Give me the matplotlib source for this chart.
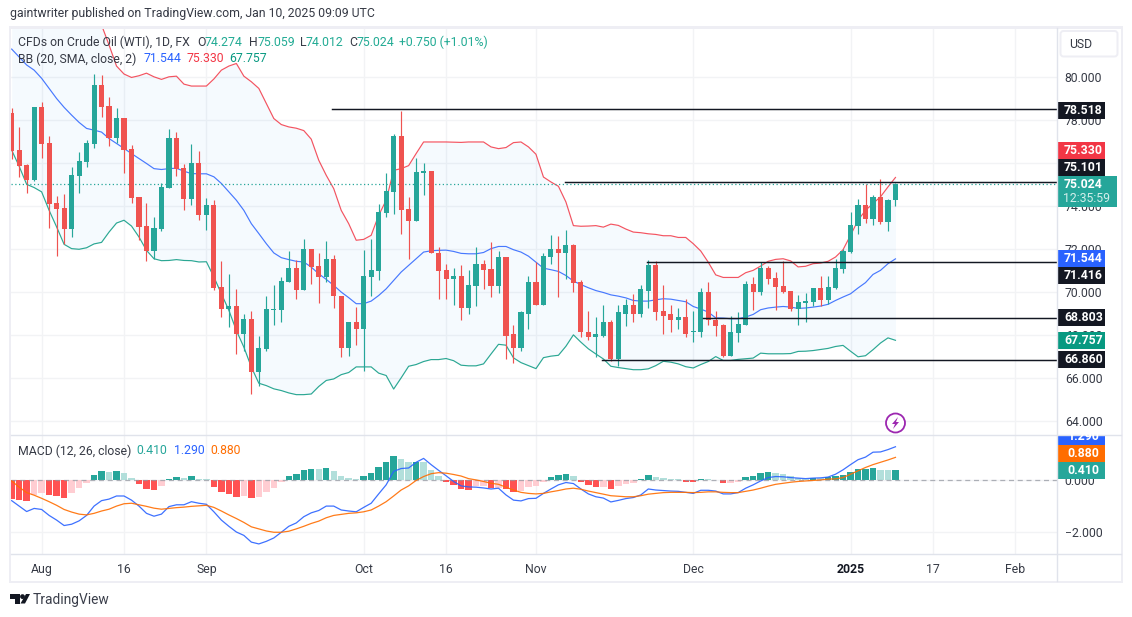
import numpy as np
import matplotlib
matplotlib.use("Agg")
import matplotlib.pyplot as plt
from matplotlib.patches import Rectangle, Circle, Polygon, FancyBboxPatch

# ===== candles (daily, WTI CFD) =====
open_ = [78.34, 76.60, 75.90, 75.20, 78.62, 76.92, 74.13, 73.90, 72.92, 75.39,
         76.04, 76.88, 79.63, 78.65, 77.16, 78.09, 76.64, 74.41, 73.06, 71.89,
         72.92, 74.83, 77.16, 75.76, 74.32, 75.99, 73.57, 74.04, 70.22, 69.19,
         69.33, 68.07, 68.77, 66.26, 67.33, 69.15, 69.15, 70.45, 71.10, 70.08,
         71.99, 71.20, 70.68, 71.52, 69.84, 67.42, 68.59, 68.26, 70.68, 70.96,
         73.66, 74.64, 77.25, 73.85, 73.29, 75.52, 75.62, 71.84, 71.01, 70.63,
         70.73, 69.28, 70.26, 71.29, 71.05, 70.26, 71.61, 68.03, 67.42, 69.00,
         70.49, 69.42, 71.61, 71.98, 71.84, 72.17, 70.45, 68.16, 67.93, 67.98,
         68.63, 66.91, 69.00, 69.42, 68.96, 70.07, 71.24, 69.10, 68.96, 68.72,
         68.86, 68.12, 68.12, 69.98, 68.72, 68.45, 67.05, 68.08, 68.45, 70.36,
         69.99, 71.10, 70.64, 70.27, 70.03, 69.19, 69.47, 69.52, 70.17, 69.61,
         70.17, 71.06, 71.85, 73.06, 74.04, 73.39, 74.41, 73.25, 74.274]
high = [78.54, 77.68, 75.95, 78.62, 78.83, 77.25, 74.46, 74.55, 75.81, 76.50,
        77.06, 80.14, 80.09, 79.07, 78.55, 78.09, 76.83, 74.41, 74.13, 73.48,
        75.06, 77.58, 77.44, 75.95, 76.88, 76.55, 74.36, 74.27, 71.43, 70.82,
        70.12, 68.96, 69.10, 67.98, 69.80, 70.31, 70.68, 71.89, 71.47, 72.45,
        71.99, 71.80, 72.36, 71.71, 69.84, 68.63, 69.29, 71.94, 72.45, 74.08,
        75.52, 77.34, 78.41, 74.41, 76.22, 75.99, 75.62, 72.08, 71.29, 71.10,
        71.24, 71.01, 72.08, 71.47, 72.31, 71.89, 71.61, 68.49, 69.14, 70.77,
        71.41, 71.80, 72.64, 72.59, 72.87, 72.22, 70.54, 69.14, 68.86, 69.38,
        68.68, 69.38, 69.66, 69.93, 70.35, 71.47, 71.43, 70.31, 69.38, 69.28,
        69.66, 69.10, 70.21, 70.49, 69.14, 68.50, 68.87, 69.05, 70.50, 70.68,
        71.38, 71.20, 70.92, 71.43, 70.03, 69.85, 69.94, 70.17, 70.73, 70.73,
        71.52, 71.99, 73.71, 74.32, 75.02, 74.50, 75.25, 74.32, 75.059]
low = [76.18, 75.36, 74.61, 75.17, 76.24, 72.98, 71.68, 72.22, 72.56, 74.61,
       75.81, 76.69, 78.15, 76.78, 76.91, 75.53, 74.13, 72.41, 71.43, 71.52,
       72.83, 74.83, 75.39, 73.80, 74.04, 73.34, 72.87, 70.08, 68.82, 68.37,
       67.14, 67.28, 65.28, 65.61, 67.24, 68.49, 68.63, 70.45, 69.70, 70.08,
       70.36, 69.47, 70.45, 69.24, 66.96, 67.05, 67.56, 66.35, 69.84, 70.54,
       73.47, 73.61, 72.68, 71.52, 73.29, 74.50, 71.80, 69.70, 69.66, 69.42,
       68.68, 68.96, 69.33, 70.12, 69.75, 69.95, 66.91, 66.72, 67.28, 68.30,
       69.38, 69.42, 71.29, 69.75, 70.63, 69.98, 67.93, 67.75, 66.97, 67.93,
       66.81, 66.58, 68.44, 68.63, 68.86, 69.28, 68.72, 68.03, 68.16, 68.26,
       67.89, 67.70, 67.89, 68.49, 67.98, 66.96, 67.05, 67.70, 68.45, 69.15,
       69.85, 70.36, 69.15, 69.94, 69.10, 68.45, 68.59, 69.33, 69.33, 69.43,
       70.13, 70.87, 71.80, 72.69, 73.20, 73.11, 73.15, 72.83, 74.012]
close = [76.57, 75.85, 75.20, 78.62, 76.89, 74.08, 73.85, 72.92, 75.43, 76.09,
         76.92, 79.63, 78.62, 77.16, 78.09, 76.60, 74.36, 73.01, 71.89, 72.96,
         74.87, 77.16, 75.71, 74.32, 75.99, 73.57, 74.04, 70.17, 69.19, 69.33,
         68.07, 68.77, 66.26, 67.38, 69.19, 69.19, 70.50, 71.10, 70.08, 71.99,
         71.16, 70.68, 71.52, 69.80, 67.42, 68.59, 68.26, 70.73, 71.01, 73.71,
         74.69, 77.25, 73.80, 73.29, 75.57, 75.62, 71.80, 70.96, 70.63, 70.73,
         69.28, 70.31, 71.29, 71.01, 70.26, 71.61, 67.98, 67.42, 69.05, 70.49,
         69.42, 71.66, 71.98, 71.84, 72.17, 70.40, 68.12, 67.93, 68.03, 68.63,
         66.91, 69.05, 69.42, 68.96, 70.12, 71.24, 69.05, 68.91, 68.72, 68.86,
         68.07, 68.16, 69.98, 68.68, 68.40, 67.05, 68.12, 68.50, 70.36, 69.99,
         71.10, 70.59, 70.22, 69.99, 69.19, 69.52, 69.57, 70.17, 69.61, 70.22,
         71.10, 71.90, 73.11, 74.04, 73.39, 74.41, 73.25, 74.27, 75.024]

# ===== bollinger bands (first upper values are above the pane, estimated) =====
bb_upper = [86.0, 85.8, 85.6, 85.4, 85.2, 85.0, 84.8, 84.6, 84.4, 84.1,
            83.8, 83.35, 82.42, 81.49, 80.51, 80.14, 79.98, 80.06, 80.18, 80.01,
            79.89, 80.01, 80.04, 79.67, 79.58, 79.58, 79.58, 79.91, 80.32, 80.51,
            80.63, 80.04, 79.78, 79.47, 78.77, 78.07, 77.79, 77.68, 77.62, 77.51,
            77.11, 76.13, 75.43, 74.81, 73.80, 73.18, 72.41, 72.45, 72.64, 73.57,
            74.27, 75.66, 75.74, 75.88, 76.44, 76.98, 76.98, 76.98, 76.98, 76.97,
            76.96, 76.98, 76.98, 76.98, 76.75, 76.67, 76.72, 76.95, 76.98, 76.75,
            76.41, 75.35, 75.12, 74.92, 74.19, 73.09, 73.06, 73.07, 73.09, 73.02,
            73.16, 73.10, 72.93, 72.79, 72.76, 72.71, 72.68, 72.62, 72.62, 72.54,
            72.54, 72.25, 71.91, 71.39, 70.80, 70.68, 70.68, 70.68, 70.90, 71.01,
            71.21, 71.43, 71.52, 71.55, 71.45, 71.17, 71.20, 71.32, 71.35, 71.43,
            71.63, 71.97, 72.64, 73.34, 73.80, 74.12, 74.43, 74.89, 75.33]
bb_basis = [81.30, 80.93, 80.56, 80.32, 79.94, 79.47, 79.00, 78.59, 78.23, 77.89,
            77.61, 77.53, 77.44, 77.14, 76.91, 76.68, 76.44, 76.21, 75.98, 75.74,
            75.70, 75.74, 75.76, 75.62, 75.51, 75.50, 75.50, 75.36, 75.05, 74.66,
            74.27, 73.80, 73.18, 72.72, 72.25, 71.82, 71.60, 71.51, 71.43, 71.40,
            71.16, 70.85, 70.59, 70.31, 70.00, 69.74, 69.46, 69.46, 69.58, 69.84,
            70.15, 70.54, 70.93, 71.24, 71.55, 71.86, 71.92, 71.94, 71.95, 71.89,
            71.80, 71.78, 71.78, 71.84, 72.02, 72.12, 72.12, 71.97, 71.86, 71.67,
            71.39, 71.11, 71.04, 70.96, 70.77, 70.51, 70.35, 70.20, 70.07, 69.98,
            69.87, 69.81, 69.73, 69.61, 69.58, 69.58, 69.64, 69.69, 69.67, 69.61,
            69.55, 69.33, 69.21, 69.07, 68.80, 68.79, 68.76, 68.76, 68.84, 68.96,
            69.18, 69.26, 69.30, 69.33, 69.30, 69.24, 69.26, 69.30, 69.35, 69.43,
            69.61, 69.77, 69.92, 70.19, 70.44, 70.82, 71.01, 71.32, 71.544]
bb_lower = [76.60, 75.85, 75.01, 74.86, 74.66, 73.80, 73.03, 72.22, 72.02, 71.99,
            72.06, 72.24, 72.31, 72.79, 73.21, 73.34, 73.07, 72.56, 71.94, 71.55,
            71.46, 71.47, 71.51, 71.47, 71.46, 71.40, 71.41, 70.70, 69.92, 69.15,
            68.21, 67.44, 66.51, 65.76, 65.65, 65.50, 65.42, 65.31, 65.23, 65.23,
            65.26, 65.61, 65.89, 65.96, 66.16, 66.26, 66.52, 66.52, 66.52, 66.23,
            66.12, 65.49, 66.01, 66.55, 66.63, 66.77, 66.86, 66.86, 66.91, 66.81,
            66.60, 66.57, 66.57, 66.66, 67.12, 67.57, 67.53, 66.94, 66.72, 66.58,
            66.44, 66.95, 67.02, 67.06, 67.48, 68.01, 67.67, 67.36, 67.12, 66.89,
            66.55, 66.49, 66.44, 66.39, 66.39, 66.43, 66.58, 66.78, 66.74, 66.66,
            66.53, 66.47, 66.63, 66.77, 67.00, 66.82, 66.82, 66.87, 66.90, 66.93,
            67.16, 67.13, 67.13, 67.13, 67.14, 67.24, 67.25, 67.28, 67.33, 67.38,
            67.47, 67.52, 67.25, 66.99, 67.04, 67.32, 67.63, 67.87, 67.757]

# ===== macd pane =====
macd_hist = [-0.74, -0.77, -0.80, -0.58, -0.48, -0.57, -0.61, -0.69, -0.49, -0.30,
             -0.10, 0.21, 0.36, 0.32, 0.36, 0.29, 0.09, -0.13, -0.34, -0.38,
             -0.22, 0.05, 0.13, 0.09, 0.17, 0.05, 0.04, -0.26, -0.45, -0.53,
             -0.65, -0.61, -0.69, -0.65, -0.45, -0.30, -0.06, 0.17, 0.25, 0.40,
             0.44, 0.43, 0.48, 0.36, 0.17, 0.09, 0.05, 0.17, 0.29, 0.52,
             0.71, 0.95, 0.83, 0.70, 0.72, 0.71, 0.40, 0.17, -0.06, -0.18,
             -0.34, -0.38, -0.22, -0.21, -0.30, -0.29, -0.34, -0.45, -0.42, -0.26,
             -0.22, -0.06, 0.13, 0.21, 0.25, 0.17, -0.06, -0.18, -0.26, -0.25,
             -0.34, -0.22, -0.14, -0.10, 0.05, 0.21, 0.13, 0.09, 0.05, 0.04,
             -0.06, -0.07, 0.05, 0.04, 0.01, -0.10, -0.09, -0.06, 0.13, 0.17,
             0.29, 0.32, 0.29, 0.25, 0.16, 0.10, 0.06, 0.10, 0.09, 0.14,
             0.18, 0.21, 0.32, 0.44, 0.45, 0.48, 0.40, 0.39, 0.41]
macd_line = [-0.79, -1.00, -1.21, -1.09, -1.13, -1.36, -1.54, -1.75, -1.70, -1.57,
             -1.36, -1.00, -0.79, -0.73, -0.61, -0.61, -0.77, -1.00, -1.28, -1.39,
             -1.31, -1.02, -0.95, -0.95, -0.83, -0.89, -0.93, -1.22, -1.54, -1.78,
             -2.00, -2.13, -2.39, -2.46, -2.36, -2.23, -2.01, -1.78, -1.65, -1.41,
             -1.26, -1.17, -1.00, -1.00, -1.15, -1.19, -1.22, -1.05, -0.89, -0.53,
             -0.18, 0.34, 0.45, 0.47, 0.69, 0.84, 0.60, 0.38, 0.17, -0.05,
             -0.22, -0.26, -0.27, -0.30, -0.34, -0.31, -0.57, -0.77, -0.80, -0.71,
             -0.70, -0.51, -0.34, -0.18, -0.09, -0.13, -0.34, -0.53, -0.64, -0.69,
             -0.84, -0.78, -0.71, -0.67, -0.57, -0.34, -0.38, -0.40, -0.42, -0.43,
             -0.47, -0.51, -0.39, -0.39, -0.42, -0.53, -0.53, -0.48, -0.31, -0.18,
             -0.03, 0.10, 0.14, 0.13, 0.10, 0.08, 0.06, 0.08, 0.09, 0.12,
             0.23, 0.40, 0.60, 0.79, 0.89, 1.08, 1.09, 1.18, 1.29]
signal_line = [-0.03, -0.27, -0.48, -0.58, -0.70, -0.83, -0.97, -1.13, -1.23, -1.31,
               -1.34, -1.28, -1.19, -1.12, -1.00, -0.91, -0.89, -0.95, -1.01, -1.08,
               -1.12, -1.09, -1.06, -1.04, -1.01, -0.99, -0.97, -1.05, -1.19, -1.34,
               -1.48, -1.63, -1.80, -1.88, -1.96, -2.01, -2.01, -1.97, -1.88, -1.78,
               -1.67, -1.58, -1.45, -1.36, -1.32, -1.28, -1.26, -1.22, -1.15, -1.00,
               -0.83, -0.61, -0.38, -0.22, -0.01, 0.14, 0.25, 0.29, 0.27, 0.22,
               0.16, 0.06, 0.01, -0.05, -0.12, -0.16, -0.27, -0.38, -0.47, -0.51,
               -0.53, -0.51, -0.45, -0.40, -0.34, -0.31, -0.35, -0.42, -0.48, -0.54,
               -0.60, -0.62, -0.64, -0.64, -0.60, -0.54, -0.51, -0.48, -0.47, -0.47,
               -0.47, -0.48, -0.47, -0.45, -0.45, -0.47, -0.48, -0.48, -0.43, -0.38,
               -0.31, -0.23, -0.16, -0.12, -0.08, -0.05, -0.03, -0.01, 0.01, 0.04,
               0.05, 0.10, 0.23, 0.36, 0.49, 0.60, 0.69, 0.78, 0.88]

# ===== horizontal rays drawn on the chart =====
level_values = [78.518, 75.101, 71.416, 68.803, 66.860]
level_start_bar = [42.8, 73.9, 84.8, 92.3, 78.8]
last_price = 75.024

# ===== axis labels =====
date_ticks = [4, 15, 26, 47, 58, 70, 91, 112, 123, 134]
date_labels = ["Aug", "16", "Sep", "Oct", "16", "Nov", "Dec", "2025", "17", "Feb"]
price_ticks = [64, 66, 68, 70, 72, 74, 76, 78, 80]
macd_ticks = [-2, 0]

UP = "#26a69a"
DOWN = "#ef5350"
INK = "#131722"
SOFT = "#363a45"
GRID = "#f2f3f5"
W, H = 1132, 617
FONT = ["Roboto", "DejaVu Sans"]
FS = 8.8

plt.rcParams["font.family"] = FONT
plt.rcParams["font.size"] = FS


def rect(left, top, right, bottom):
    return [left / W, 1 - bottom / H, (right - left) / W, (bottom - top) / H]


fig = plt.figure(figsize=(W / 100, H / 100), dpi=100, facecolor="white")
ax = fig.add_axes(rect(10.5, 28, 1056.5, 435.5))
ax2 = fig.add_axes(rect(10.5, 435.5, 1056.5, 554.5))

x = np.arange(len(close))
o, h, l, c = map(np.array, (open_, high, low, close))
colors = np.where(c >= o, UP, DOWN)

# 布林带
ax.fill_between(x, bb_lower, bb_upper, color="#2196f3", alpha=0.045, lw=0, zorder=1)
ax.plot(x, bb_upper, color="#f23645", lw=0.85, alpha=0.85, zorder=2)
ax.plot(x, bb_basis, color="#2962ff", lw=0.85, alpha=0.85, zorder=2)
ax.plot(x, bb_lower, color="#089981", lw=0.85, alpha=0.85, zorder=2)

# K线
ax.vlines(x, l, h, colors=colors, lw=0.85, zorder=3)
ax.bar(x, np.maximum(np.abs(c - o), 0.05), bottom=np.minimum(o, c), width=0.68,
       color=colors, lw=0, zorder=4)

# 水平线
ax.axhline(last_price, color=UP, lw=0.9, ls=(0, (1, 2)), zorder=3)
for val, start in zip(level_values, level_start_bar):
    ax.plot([start, 200], [val, val], color=INK, lw=1.05, zorder=5)

ax.set_xlim(-0.156, 139.5)
ax.set_ylim(63.33, 82.28)
ax.set_xticks(date_ticks)
ax.set_yticks(price_ticks)
ax.set_yticklabels([f"{v:.3f}" for v in price_ticks])
ax.yaxis.tick_right()
ax.tick_params(axis="both", length=0, labelbottom=False, colors=SOFT, labelsize=FS, pad=6)
ax.grid(True, color=GRID, lw=1)
ax.set_axisbelow(True)
for s in ax.spines.values():
    s.set_visible(False)

# MACD 面板
hist = np.array(macd_hist)
rising = np.diff(hist, prepend=hist[0] + 0.01) > 0
hist_colors = []
for v, r in zip(hist, rising):
    if v >= 0:
        hist_colors.append("#26a69a" if r else "#b2dfdb")
    else:
        hist_colors.append("#ffcdd2" if r else "#ff5252")
ax2.bar(x, hist, width=0.86, color=hist_colors, lw=0, zorder=2)
ax2.axhline(0, color="#9598a1", lw=0.9, ls=(0, (4, 3)), alpha=0.75, zorder=3)
ax2.plot(x, macd_line, color="#2962ff", lw=0.9, alpha=0.9, zorder=4)
ax2.plot(x, signal_line, color="#ff6d00", lw=0.9, alpha=0.9, zorder=4)
ax2.set_xlim(-0.156, 139.5)
ax2.set_ylim(-2.868, 1.724)
ax2.set_xticks(date_ticks)
ax2.set_xticklabels(date_labels)
ax2.set_yticks(macd_ticks)
ax2.set_yticklabels(["\u22122.000", "0.000"])
ax2.yaxis.tick_right()
ax2.tick_params(axis="both", length=0, colors=SOFT, labelsize=FS)
ax2.tick_params(axis="y", pad=6)
ax2.tick_params(axis="x", pad=6)
ax2.get_xticklabels()[7].set_fontweight("bold")
ax2.get_xticklabels()[7].set_color(INK)
ax2.grid(True, color=GRID, lw=1)
ax2.set_axisbelow(True)
for s in ax2.spines.values():
    s.set_visible(False)

# 外框、价格标签等都画在一层像素坐标的覆盖轴上
top = fig.add_axes([0, 0, 1, 1], zorder=10)
top.set_xlim(0, W)
top.set_ylim(H, 0)
top.axis("off")
top.patch.set_alpha(0)

BAND = "#eeeef4"
for r in [(9, 26, 1114, 3), (9, 580.5, 1114, 2.5), (8.5, 26, 2.5, 557), (1120.5, 26, 2.5, 557)]:
    top.add_patch(Rectangle((r[0], r[1]), r[2], r[3], fc=BAND, lw=0))
top.plot([10.5, 1121], [435.3, 435.3], color="#e0e3eb", lw=1)
top.plot([10.5, 1121], [554.3, 554.3], color="#e0e3eb", lw=1)
top.plot([1056.7, 1056.7], [28, 581], color="#e0e3eb", lw=1)

# 顶部文字
top.text(10, 14, "gaintwriter published on TradingView.com, Jan 10, 2025 09:09 UTC",
         color=SOFT, fontsize=FS, va="center")

GREEN_TXT = "#22ab94"
legend_items = [
    (18, 42, "CFDs on Crude Oil (WTI), 1D, FX", SOFT),
    (197.7, 42, "O", SOFT), (205, 42, "74.274", GREEN_TXT),
    (248.7, 42, "H", SOFT), (257.7, 42, "75.059", GREEN_TXT),
    (300, 42, "L", SOFT), (306, 42, "74.012", GREEN_TXT),
    (349, 42, "C", SOFT), (356.7, 42, "75.024", GREEN_TXT),
    (399.3, 42, "+0.750 (+1.01%)", GREEN_TXT),
    (18, 59, "BB (20, SMA, close, 2)", SOFT),
    (143.3, 59, "71.544", "#2962ff"), (186.3, 59, "75.330", "#f23645"), (229, 59, "67.757", "#089981"),
    (18, 451, "MACD (12, 26, close)", SOFT),
    (136, 451, "0.410", UP), (174, 451, "1.290", "#2962ff"), (210, 451, "0.880", "#ff6d00"),
]
for lx, ly, txt, col in legend_items:
    top.text(lx, ly, txt, color=col, fontsize=FS, va="center")

# USD 按钮
top.add_patch(FancyBboxPatch((1060.5, 31), 57, 25.5, boxstyle="round,pad=0,rounding_size=3",
                             fc="white", ec=BAND, lw=1.4))
top.text(1069, 44.5, "USD", color=SOFT, fontsize=FS, va="center")

# 右侧价格标签
tag_texts = ["78.518", "75.330", "75.101", "71.544", "71.416", "68.803", "67.757", "66.860", "0.880", "0.410"]
tag_tops = [101.5, 142, 159, 250, 267, 309, 332, 351, 445, 462]
tag_colors = [INK, "#f23645", INK, "#2962ff", INK, INK, "#089981", INK, "#ff6d00", UP]
for txt, ty, col in zip(tag_texts, tag_tops, tag_colors):
    top.add_patch(Rectangle((1057, ty), 48, 17, fc=col, lw=0))
    top.text(1083.5, ty + 8.8, txt, color="white", fontsize=FS, fontweight="bold", ha="center", va="center")

# 最新价标签
top.add_patch(Rectangle((1057, 176), 60, 31, fc=UP, lw=0))
top.text(1083.5, 185, "75.024", color="white", fontsize=FS, fontweight="bold", ha="center", va="center")
top.text(1087, 199, "12:35:59", color="#d4eeeb", fontsize=FS, ha="center", va="center")

# 被裁掉一半的 1.290 标签
clip = Rectangle((1057, 436), 48, 9, fc="#2962ff", lw=0)
top.add_patch(clip)
t = top.text(1083.5, 437, "1.290", color="white", fontsize=FS, fontweight="bold", ha="center", va="center")
t.set_clip_path(clip)

# 闪电图标
top.add_patch(Circle((895.5, 423), 9.5, fc="white", ec="#9c27b0", lw=1.3))
top.add_patch(Polygon([(898, 417), (892, 424), (895, 424), (893, 429), (899, 422), (896, 422)],
                      fc="#9c27b0", lw=0))

# TradingView 标志
top.add_patch(Polygon([(10, 594), (20, 594), (20, 603.5), (15, 603.5), (15, 599), (10, 599)], fc=INK, lw=0))
top.add_patch(Circle((22.5, 596.6), 2.4, fc=INK, lw=0))
top.add_patch(Polygon([(26, 594), (30, 594), (25, 603.5), (20.5, 603.5)], fc=INK, lw=0))
top.text(33, 600, "TradingView", color="#3a3e4a", fontsize=FS + 1.1, va="center")

fig.savefig("out.png", dpi=100, facecolor="white")
